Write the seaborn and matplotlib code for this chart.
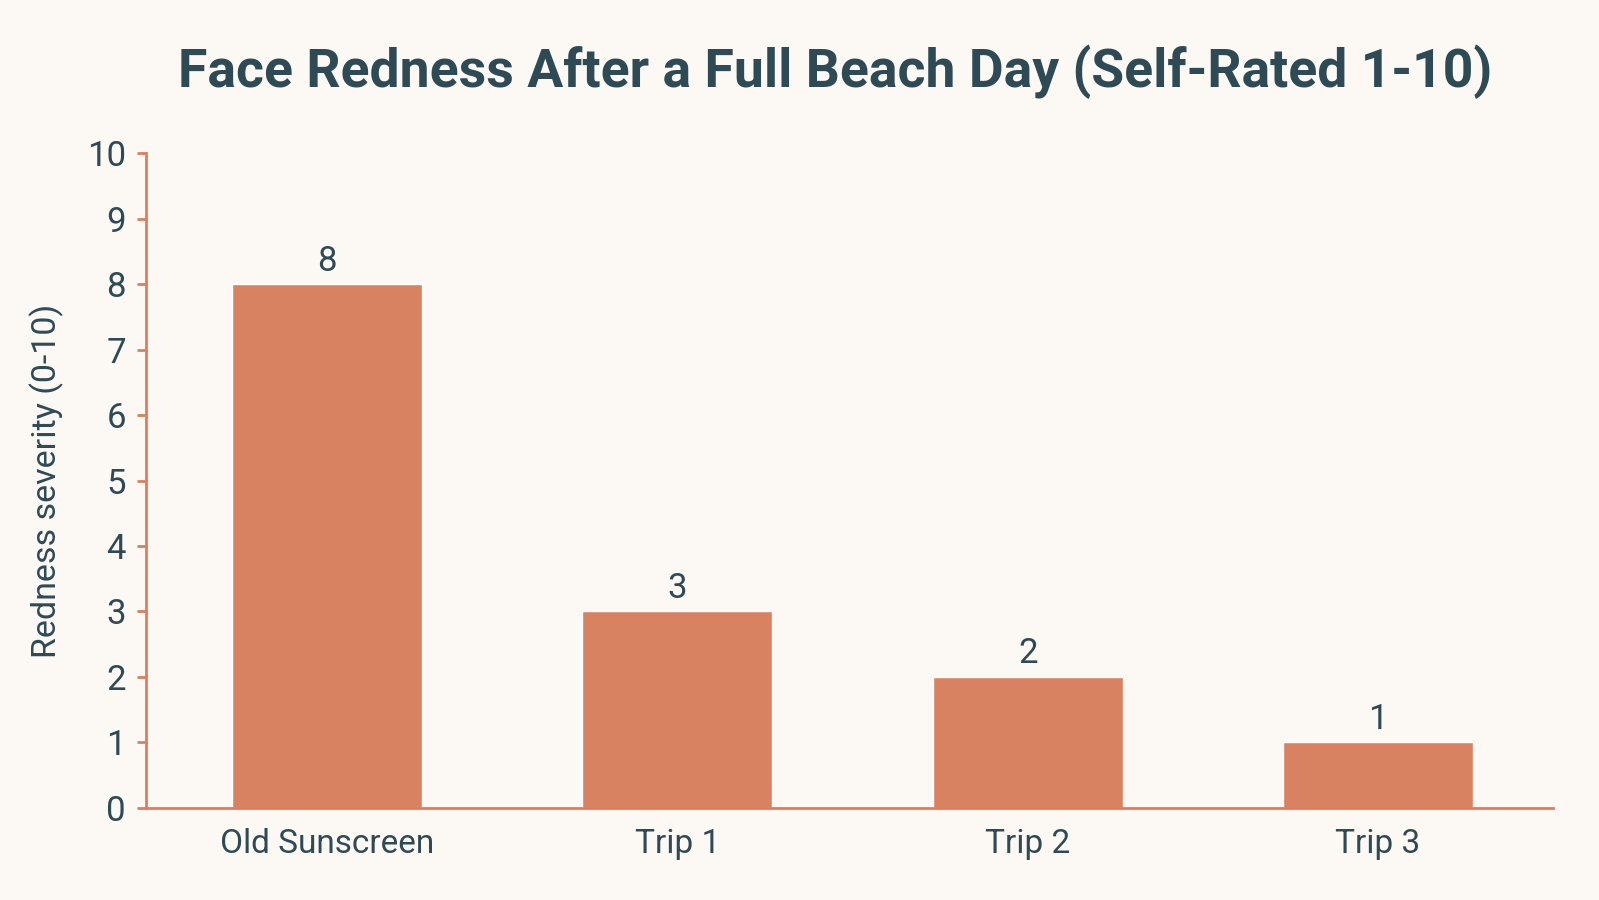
import matplotlib
matplotlib.use("Agg")
import matplotlib.pyplot as plt
import pandas as pd
import seaborn as sns

categorias = ["Old Sunscreen", "Trip 1", "Trip 2", "Trip 3"]
vermelhidao = [8, 3, 2, 1]
y_ticks = [0, 1, 2, 3, 4, 5, 6, 7, 8, 9, 10]

_BG = "#FCF8F4"
_BAR = "#D98262"
_TXT = "#2E4A55"
_AX = "#DE7E5E"

sns.set_theme(style="white")
plt.rcParams["font.family"] = ["Roboto", "DejaVu Sans"]

df = pd.DataFrame({"cat": categorias, "val": vermelhidao})

fig = plt.figure(figsize=(15.99, 9), dpi=100)
fig.patch.set_facecolor(_BG)
ax = fig.add_axes([0.0913, 0.1026, 0.880, 0.727])
ax.set_facecolor(_BG)

sns.barplot(data=df, x="cat", y="val", color=_BAR, width=0.543, saturation=1, ax=ax)

# rótulos de valor sobre as barras
for i, v in enumerate(vermelhidao):
    ax.text(i, v + 0.1, f"{v}", ha="center", va="bottom", fontsize=25, color=_TXT)

ax.set_xlim(-0.517, 3.5)
ax.set_ylim(0, 10)
ax.set_yticks(y_ticks)
ax.set_xlabel("")
ax.set_ylabel("Redness severity (0-10)", fontsize=24.5, color=_TXT)
ax.yaxis.set_label_coords(-0.058, 0.5)
ax.tick_params(axis="y", colors=_AX, labelcolor=_TXT, labelsize=25, length=6.5,
               width=2, pad=8, left=True)
ax.tick_params(axis="x", colors=_AX, labelcolor=_TXT, labelsize=24, length=0, pad=15)

for lado in ["top", "right"]:
    ax.spines[lado].set_visible(False)
for lado in ["left", "bottom"]:
    ax.spines[lado].set_color(_AX)
    ax.spines[lado].set_linewidth(2)

fig.text(0.522, 0.92, "Face Redness After a Full Beach Day (Self-Rated 1-10)",
         ha="center", va="center", fontsize=38.5, fontweight="bold", color=_TXT)

fig.savefig("out.png", dpi=100, facecolor=_BG)
